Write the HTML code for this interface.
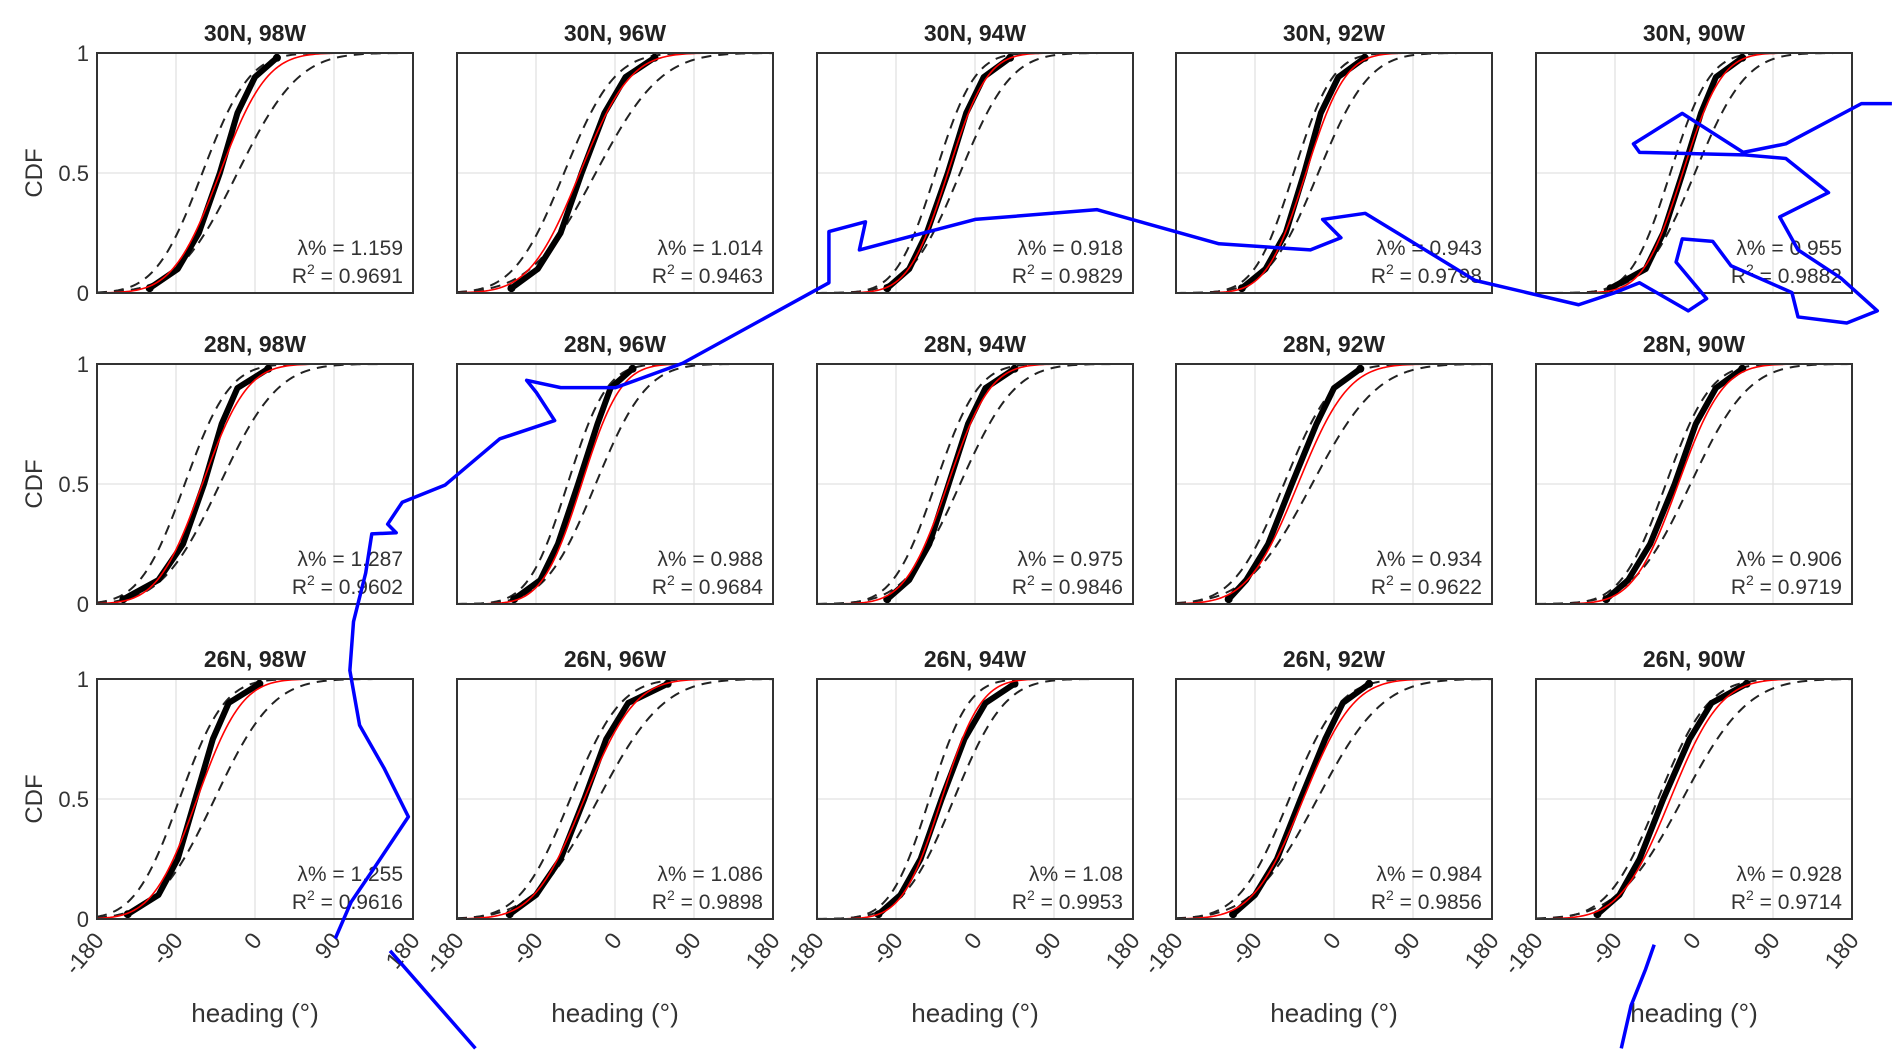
<!DOCTYPE html>
<html><head><meta charset="utf-8"><style>
html,body{margin:0;padding:0;background:#fff}
svg{display:block;font-family:"Liberation Sans",Arial,sans-serif}
</style></head><body>
<svg id="fig" width="1892" height="1061" viewBox="0 0 1892 1061"></svg>
<script>
const titles=["30N, 98W","30N, 96W","30N, 94W","30N, 92W","30N, 90W","28N, 98W","28N, 96W","28N, 94W","28N, 92W","28N, 90W","26N, 98W","26N, 96W","26N, 94W","26N, 92W","26N, 90W"];
const lambdaVals=["1.159","1.014","0.918","0.943","0.955","1.287","0.988","0.975","0.934","0.906","1.255","1.086","1.08","0.984","0.928"];
const r2Vals=["0.9691","0.9463","0.9829","0.9798","0.9882","0.9602","0.9684","0.9846","0.9622","0.9719","0.9616","0.9898","0.9953","0.9856","0.9714"];
const fitMu=[-40,-40,-31,-32,-13,-60,-38,-31,-41,-18,-66,-35,-38,-35,-27];
const fitSigma=[42,45,35,35,35,40,35,38,45,40,40,45,35,45,45];
const boundShift=[20,18,14,14,14,20,16,14,16,14,20,16,14,16,14];
const quantLevels=[0.02,0.1,0.25,0.5,0.75,0.9,0.98];
const empQ=[
[-120,-88,-64,-40,-20,0,25],
[-118,-88,-62,-38,-12,12,45],
[-100,-75,-55,-31,-10,10,40],
[-105,-78,-55,-34,-15,5,35],
[-95,-55,-35,-13,8,25,55],
[-150,-110,-82,-58,-38,-20,15],
[-115,-85,-65,-42,-20,-5,20],
[-100,-75,-52,-30,-8,12,45],
[-120,-100,-75,-48,-20,0,30],
[-100,-75,-50,-22,2,25,55],
[-145,-110,-88,-68,-48,-30,5],
[-120,-90,-62,-35,-10,15,60],
[-110,-85,-62,-38,-12,12,45],
[-115,-90,-65,-38,-10,10,40],
[-110,-85,-62,-35,-5,20,60]];
const xTicks=[-180,-90,0,90,180];
const xTickLabels=["-180","-90","0","90","180"];
const yTicks=[0,0.5,1];
const yTickLabels=["0","0.5","1"];
const blueTrackA=[[1552,85],[1527,85],[1465,118],[1430,125],[1380,93],[1340,118],[1345,125],[1430,127],[1465,130],[1500,158],[1460,178],[1475,205],[1510,228],[1540,255],[1515,265],[1475,260],[1470,240],[1420,218],[1405,198],[1380,196],[1375,215],[1400,245],[1385,255],[1345,232],[1325,240],[1295,250],[1210,230],[1120,175],[1085,180],[1100,195],[1075,205],[1000,200],[900,172],[800,180],[705,205],[710,182],[680,190],[680,232],[560,298],[505,318],[460,318],[432,312],[440,322],[455,345],[410,360],[365,398],[330,412],[318,430],[325,437],[305,438],[300,470],[290,510],[287,550],[295,595],[315,630],[335,670],[305,715],[288,740],[275,770]];
const blueTrackB=[[320,780],[390,860]];
const blueTrackC=[[1357,775],[1350,795],[1338,825],[1330,860]];

const NS="http://www.w3.org/2000/svg";
const svg=document.getElementById('fig');
function mk(tag,attrs,parent){const e=document.createElementNS(NS,tag);for(const k in attrs)e.setAttribute(k,attrs[k]);(parent||svg).appendChild(e);return e;}
function erf(x){const s=x<0?-1:1;x=Math.abs(x);const t=1/(1+0.3275911*x);const y=1-((((1.061405429*t-1.453152027)*t+1.421413741)*t-0.284496736)*t+0.254829592)*t*Math.exp(-x*x);return s*y;}
function ncdf(x,m,s){return 0.5*(1+erf((x-m)/(s*Math.SQRT2)));}
const W=316,H=240;
const lefts=[97,457,817,1176,1536];
const tops=[53,364,679];
for(let i=0;i<15;i++){
  const r=Math.floor(i/5),c=i%5,L=lefts[c],T=tops[r];
  const g=mk('g',{});
  
  
  const sx=v=>L+(v+180)/360*W, sy=p=>T+H-p*H;
  const t=mk('text',{x:L+W/2,y:T-12,'text-anchor':'middle','font-size':23,'font-weight':'bold',fill:'#222'},g);t.textContent=titles[i];
  
  xTicks.slice(1,4).forEach(v=>{const l=mk('line',{x1:sx(v),x2:sx(v),y1:T,y2:T+H,stroke:'#e2e2e2','stroke-width':1.3},g);});
  {const l=mk('line',{x1:L,x2:L+W,y1:sy(0.5),y2:sy(0.5),stroke:'#e2e2e2','stroke-width':1.3},g);}
  const pl=[],pu=[],pr=[];
  for(let v=-180;v<=180;v+=3){pl.push(sx(v)+','+sy(ncdf(v,fitMu[i]+boundShift[i],fitSigma[i]*1.3)));pu.push(sx(v)+','+sy(ncdf(v,fitMu[i]-boundShift[i],fitSigma[i]*1.0)));pr.push(sx(v)+','+sy(ncdf(v,fitMu[i],fitSigma[i])));}
  [pl,pu].forEach(p=>{const e=mk('polyline',{points:p.join(' '),fill:'none',stroke:'#222','stroke-width':2,'stroke-dasharray':'10,7'},g);});
  const ep=[];
  empQ[i].forEach((v,k)=>ep.push([sx(v),sy(quantLevels[k])]));
  const e=mk('polyline',{points:ep.map(p=>p.join(',')).join(' '),fill:'none',stroke:'#000','stroke-width':6,'stroke-linejoin':'round','stroke-linecap':'round'},g);
  
  [0,empQ[i].length-1].forEach(k=>{const d=mk('circle',{cx:sx(empQ[i][k]),cy:sy(quantLevels[k]),r:4,fill:'#000'},g);});
  const rc=mk('polyline',{points:pr.join(' '),fill:'none',stroke:'#f00','stroke-width':1.6},g);
  
  const box=mk('rect',{x:L,y:T,width:W,height:H,fill:'none',stroke:'#333','stroke-width':2},g);
  
  const s1=mk('text',{x:L+W-10,y:T+H-38,'text-anchor':'end','font-size':21,fill:'#333'},g);s1.textContent='λ% = '+lambdaVals[i];
  
  const s2=mk('text',{x:L+W-10,y:T+H-10,'text-anchor':'end','font-size':21,fill:'#333'},g);
  s2.innerHTML='R<tspan dy="-9" font-size="14">2</tspan><tspan dy="9"> = '+r2Vals[i]+'</tspan>';
  
  if(c===0){
    yTicks.forEach((v,k)=>{const tt=mk('text',{x:L-8,y:sy(v)+8,'text-anchor':'end','font-size':22,fill:'#333'},g);tt.textContent=yTickLabels[k];});
    const yl=mk('text',{x:0,y:0,transform:`translate(42,${T+H/2}) rotate(-90)`,'text-anchor':'middle','font-size':24,fill:'#333'},g);yl.textContent='CDF';
    
  }
  if(r===2){
    xTicks.forEach((v,k)=>{const tx=sx(v)+8,ty=T+H+22;const tt=mk('text',{x:tx,y:ty,transform:`rotate(-50 ${tx} ${ty})`,'text-anchor':'end','font-size':23,fill:'#333'},g);tt.textContent=xTickLabels[k];});
    const xl=mk('text',{x:L+W/2,y:1022,'text-anchor':'middle','font-size':26,fill:'#333'},g);xl.textContent='heading (°)';
    
  }
}
const S=1.219;
[blueTrackA,blueTrackB,blueTrackC].forEach(tr=>{
  const b=mk('polyline',{points:tr.map(p=>(p[0]*S)+','+(p[1]*S)).join(' '),fill:'none',stroke:'#0000ff','stroke-width':3.5,'stroke-linejoin':'round'});
  
  
});
</script>
</body></html>
